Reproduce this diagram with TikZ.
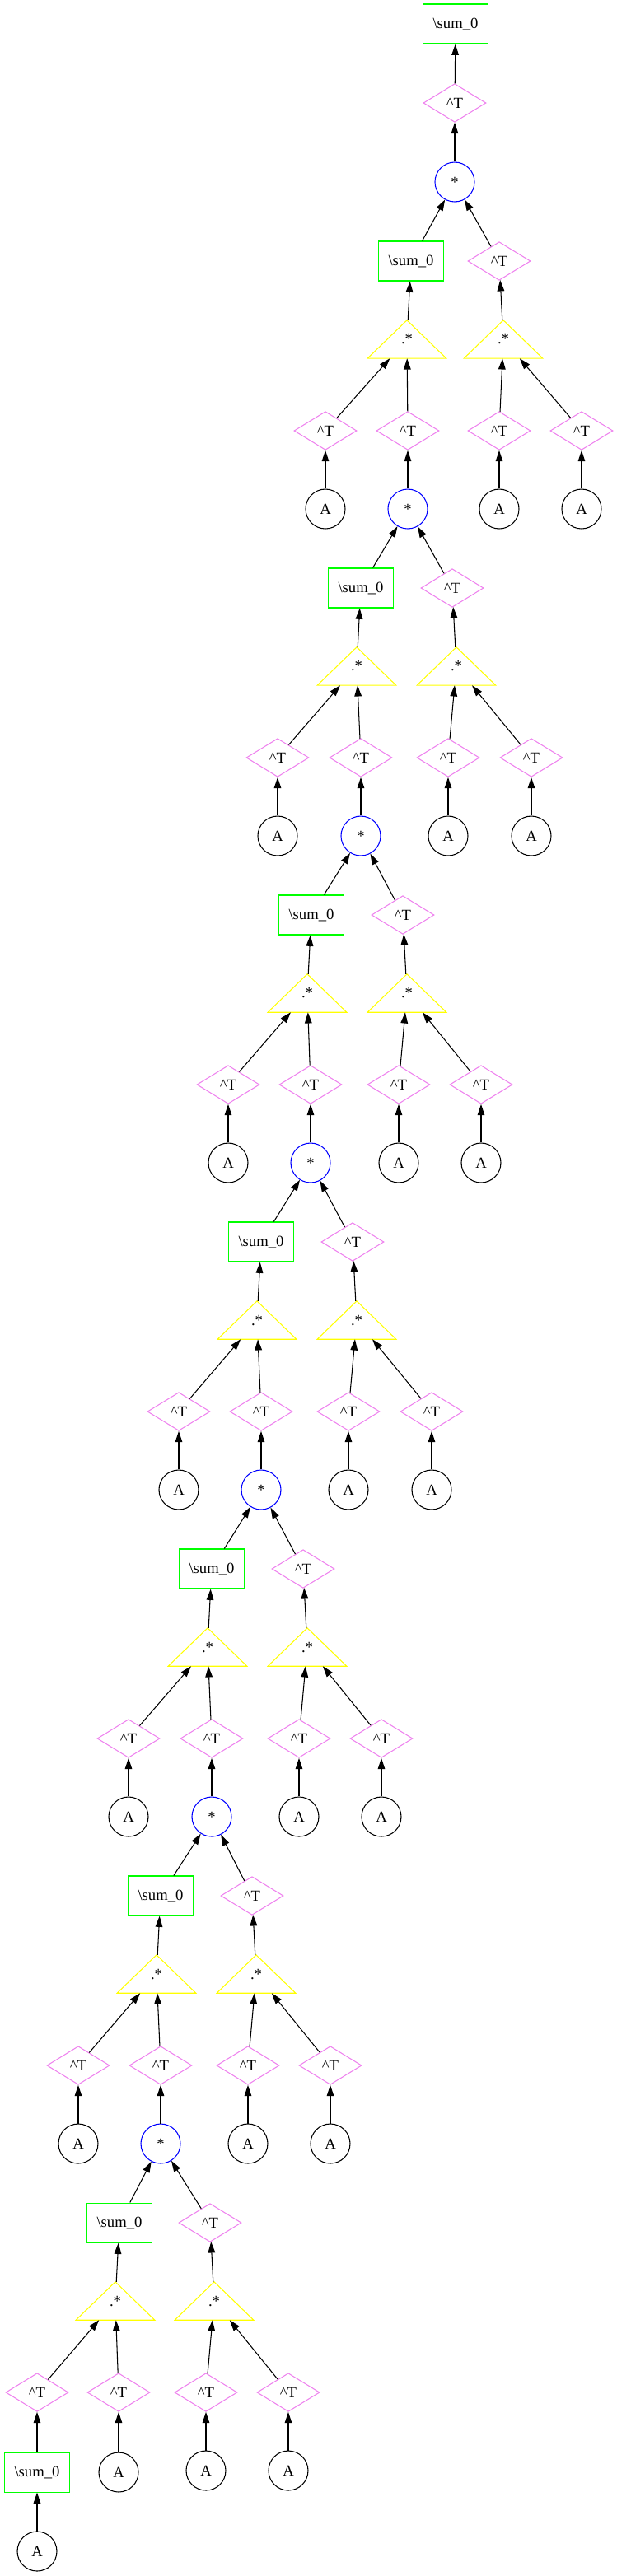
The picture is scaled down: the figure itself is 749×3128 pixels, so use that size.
\documentclass[tikz,border=0pt]{standalone}
\usepackage{fontspec}
\setmainfont{Liberation Serif}
\usetikzlibrary{arrows.meta,shapes.geometric}
\definecolor{gvgreen}{RGB}{0,255,0}
\definecolor{gvviolet}{RGB}{238,130,238}
\definecolor{gvyellow}{RGB}{255,255,0}
\definecolor{gvblue}{RGB}{0,0,255}

\begin{document}
\begin{tikzpicture}[
    x=0.75pt,
    y=-0.75pt,
    every node/.style={font=\fontsize{14pt}{16pt}\selectfont, inner sep=0pt,
        line width=0.8pt},
    sumbox/.style={draw=gvgreen, rectangle, minimum width=59pt,
        minimum height=36pt},
    transp/.style={draw=gvviolet, diamond, minimum width=57pt,
        minimum height=35pt},
    mult/.style={draw=gvblue, circle, minimum size=36pt},
    leaf/.style={draw=black, circle, minimum size=36pt},
    elemmult/.style={rectangle, minimum width=71pt, minimum height=34pt},
    elemtri/.style={draw=gvyellow, line width=0.8pt},
    edge/.style={-{Triangle[length=10pt,width=6.5pt]}, draw=black,
        line width=0.8pt}
]
    \useasboundingbox (0,0) rectangle (749,3128);

    % root of the expression
    \node[sumbox] (stop) at (553,29) {\textbackslash sum\_0};
    \node[transp] (tbtop) at (552,125) {\textasciicircum T};
    \draw[edge] (tbtop) -- (stop);

    % one level per product node: x of *, sum, right ^T, then the four ^T
    \foreach \k/\x/\s/\r/\ta/\tb/\tc/\td
        [remember=\k as \j (initially top),
         evaluate=\k as \y using 221+397*\k] in {
        0/552/499/606/395/495/606/706,
        1/495/438/549/337/438/544/645,
        2/438/378/489/277/377/484/584,
        3/377/317/428/217/317/423/524,
        4/317/257/368/156/257/363/463,
        5/257/195/306/95/195/301/401,
        6/195/145/255/45/144/250/350}{
        \node[mult] (m\k) at (\x,\y) {*};
        \node[sumbox] (s\k) at (\s,\y+96) {\textbackslash sum\_0};
        \node[transp] (r\k) at (\r,\y+96) {\textasciicircum T};
        \node[elemmult] (el\k) at (\s-5,\y+191) {.*};
        \node[elemmult] (er\k) at (\r+5,\y+191) {.*};
        \draw[elemtri] (el\k.north) -- (el\k.south east)
            -- (el\k.south west) -- cycle;
        \draw[elemtri] (er\k.north) -- (er\k.south east)
            -- (er\k.south west) -- cycle;
        \node[transp] (ta\k) at (\ta,\y+302) {\textasciicircum T};
        \node[transp] (tb\k) at (\tb,\y+302) {\textasciicircum T};
        \node[transp] (tc\k) at (\tc,\y+302) {\textasciicircum T};
        \node[transp] (td\k) at (\td,\y+302) {\textasciicircum T};
        \node[leaf] (ac\k) at (\tc,\y+397) {A};
        \node[leaf] (ad\k) at (\td,\y+397) {A};

        \draw[edge] (m\k) -- (tb\j);
        \draw[edge] (s\k) -- (m\k);
        \draw[edge] (r\k) -- (m\k);
        \draw[edge] (el\k) -- (s\k);
        \draw[edge] (er\k) -- (r\k);
        \draw[edge] (ta\k) -- (el\k);
        \draw[edge] (tb\k) -- (el\k);
        \draw[edge] (tc\k) -- (er\k);
        \draw[edge] (td\k) -- (er\k);
        \draw[edge] (ac\k) -- (tc\k);
        \draw[edge] (ad\k) -- (td\k);
        \ifnum\k<6\relax
            \node[leaf] (aa\k) at (\ta,\y+397) {A};
            \draw[edge] (aa\k) -- (ta\k);
        \fi
    }

    % bottom of the last level
    \node[sumbox] (slast) at (45,3002) {\textbackslash sum\_0};
    \node[leaf] (alast) at (45,3098) {A};
    \node[leaf] (ablast) at (144,3002) {A};
    \draw[edge] (slast) -- (ta6);
    \draw[edge] (alast) -- (slast);
    \draw[edge] (ablast) -- (tb6);
\end{tikzpicture}
\end{document}
